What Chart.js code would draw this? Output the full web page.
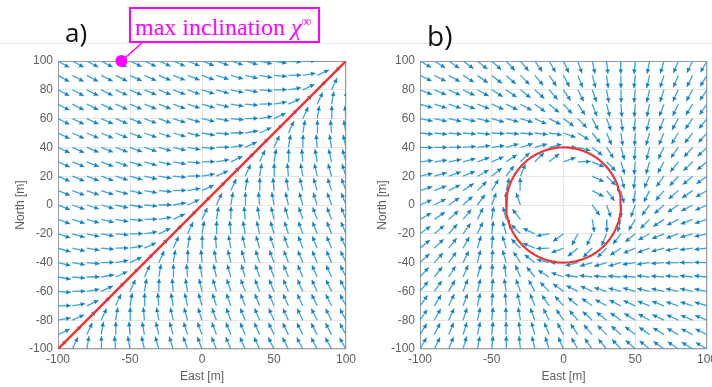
<!DOCTYPE html>
<html>
<head>
<meta charset="utf-8">
<script src="https://cdn.jsdelivr.net/npm/chart.js@4.4.1/dist/chart.umd.min.js"></script>
<style>
body{margin:0;width:712px;height:387px;overflow:hidden;background:#fff;position:relative;font-family:"Liberation Sans",Arial,sans-serif}
.pane{position:absolute;top:0;height:387px}
#rule{position:absolute;left:0;top:43px;width:712px;height:1px;background:#ececec}
.tag{position:absolute;font-family:"Open Sans",sans-serif;color:#111;line-height:1;white-space:nowrap;z-index:2}
#note{position:absolute;left:129px;top:7px;width:191px;height:36px;box-sizing:border-box;border:2px solid #ff00ff;background:#fff;z-index:2}
#note span{position:absolute;left:4px;top:6px;font-family:"Liberation Serif",serif;font-size:24px;line-height:1;color:#ff00ff;white-space:nowrap}
#note sup{font-size:14px;line-height:0;vertical-align:9px}
</style>
</head>
<body>
<div id="rule"></div>
<div class="pane" style="left:0;width:362px"><canvas id="fa" width="362" height="387"></canvas></div>
<div class="pane" style="left:362px;width:360px"><canvas id="fb" width="360" height="387"></canvas></div>
<div class="tag" style="left:65px;top:19px;font-size:26px">a)</div>
<div class="tag" style="left:427px;top:21px;font-size:28px">b)</div>
<div id="note"><span>max inclination <i>χ</i><sup>∞</sup></span></div>
<script>
// grid of the quiver (m)
const gridEast = [-100,-90,-80,-70,-60,-50,-40,-30,-20,-10,0,10,20,30,40,50,60,70,80,90,100];
const gridNorth = [100,90,80,70,60,50,40,30,20,10,0,-10,-20,-30,-40,-50,-60,-70,-80,-90,-100];
const xTickVals = [-100,-50,0,50,100];
const yTickVals = [-100,-80,-60,-40,-20,0,20,40,60,80,100];

// a) straight path, turn away from path heading (deg) by |East - North| = 0,10,..,200
const pathA = [[-100,-100],[100,100]];
const turnA = [0,20,35,44,50,55,58,61,63,65,66,67,68,69,70,71,72,73,73,74,75];
const markerA = [-56,100];

// b) loiter circle, turn from tangent (deg) by distance to circle -40,-35,..,100
const orbitRadius = 40;
const turnB = [-56,-52,-48,-43,-36,-29,-20,-11,0,11,20,29,36,43,48,52,56,59,62,64,66,67,69,70,71,72,73,74,75];
const holeB = [[-20,20],[-10,20],[0,20],[10,20],[-20,10],[-10,10],[0,10],[10,10],
               [-20,0],[-10,0],[0,0],[10,0],[-20,-10],[-10,-10],[0,-10],[10,-10]];

const arrowLen = 9;
const deg = Math.PI / 180;

const pathHeading = Math.atan2(pathA[1][1]-pathA[0][1], pathA[1][0]-pathA[0][0]) / deg;
function headingA(e, n){
    const d = e - n;
    return pathHeading + Math.sign(d) * turnA[Math.abs(d) / 10];
}
function headingB(e, n){
    const bearing = Math.atan2(n, e) / deg;
    const dr = Math.hypot(e, n) - orbitRadius;
    let k = Math.round((dr + 40) / 5);
    k = Math.max(0, Math.min(turnB.length - 1, k));
    return bearing - 90 - turnB[k];
}

function buildField(headingAt, hole){
    const shafts = [], heads = [], rot = [];
    gridNorth.forEach(function(n){
        gridEast.forEach(function(e){
            if (hole && hole.some(h => h[0] === e && h[1] === n)) return;
            const h = headingAt(e, n);
            const c = Math.cos(h*deg), s = Math.sin(h*deg);
            shafts.push({x:e, y:n}, {x:e + arrowLen*c, y:n + arrowLen*s}, {x:null, y:null});
            heads.push({x:e + (arrowLen-2.2)*c, y:n + (arrowLen-2.2)*s});
            rot.push(90 - h);
        });
    });
    return {shafts: shafts, heads: heads, rot: rot};
}

const frame = {
    id: 'frame',
    beforeDatasetsDraw(chart){
        const a = chart.chartArea, c = chart.ctx;
        c.save();
        c.strokeStyle = '#9c9c9c';
        c.lineWidth = 1;
        c.strokeRect(a.left + 0.5, a.top + 0.5, a.width - 1, a.height - 1);
        if (chart.canvas.id === 'fa') {
            const px = chart.scales.x.getPixelForValue(markerA[0]);
            const py = chart.scales.y.getPixelForValue(markerA[1]);
            c.strokeStyle = '#ff00ff';
            c.lineWidth = 1.5;
            c.beginPath();
            c.moveTo(px, py);
            c.lineTo(142, 43);
            c.stroke();
        }
        c.restore();
    }
};

function axes(){
    const tickFont = {family: 'Liberation Sans', size: 12};
    return {
        x: {
            type: 'linear', min: -100, max: 100,
            afterBuildTicks: s => { s.ticks = xTickVals.map(v => ({value: v})); },
            afterFit: s => { s.height = 38; },
            grid: {color: '#e6e6e6', drawTicks: false},
            border: {display: false},
            ticks: {color: '#5e5e5e', font: tickFont, padding: 3, maxRotation: 0},
            title: {display: true, text: 'East [m]', color: '#5e5e5e', font: tickFont, padding: {top: 0, bottom: 3}}
        },
        y: {
            type: 'linear', min: -100, max: 100,
            afterBuildTicks: s => { s.ticks = yTickVals.map(v => ({value: v})); },
            afterFit: s => { s.width = 58; },
            grid: {color: '#e6e6e6', drawTicks: false},
            border: {display: false},
            ticks: {color: '#5e5e5e', font: tickFont, padding: 5},
            title: {display: true, text: 'North [m]', color: '#5e5e5e', font: tickFont, padding: {top: 13, bottom: 0}}
        }
    };
}

function quiverSets(field){
    return [
        {type: 'scatter', data: field.heads, pointStyle: 'triangle', pointRadius: 2.7,
         pointRotation: field.rot, backgroundColor: '#1580c2', borderWidth: 0},
        {type: 'line', data: field.shafts, borderColor: '#3aa5dd', borderWidth: 1.3,
         pointRadius: 0, spanGaps: false, tension: 0}
    ];
}

function makeChart(id, sets, rightPad){
    return new Chart(document.getElementById(id), {
        type: 'scatter',
        data: {datasets: sets},
        options: {
            responsive: false, animation: false, events: [],
            layout: {padding: {top: 61, right: rightPad, left: 0, bottom: 0}},
            plugins: {legend: {display: false}, tooltip: {enabled: false}},
            scales: axes()
        },
        plugins: [frame]
    });
}

// a)
const fieldA = buildField(headingA, null);
makeChart('fa', [
    {type: 'scatter', data: [{x: markerA[0], y: markerA[1]}], pointRadius: 6,
     backgroundColor: '#ff00ff', borderWidth: 0, clip: false},
    {type: 'line', data: pathA.map(p => ({x: p[0], y: p[1]})), borderColor: '#ee3434',
     borderWidth: 2.5, pointRadius: 0}
].concat(quiverSets(fieldA)), 16);

// b)
const circle = [];
for (let a = 0; a <= 360; a += 3) {
    circle.push({x: orbitRadius*Math.cos(a*deg), y: orbitRadius*Math.sin(a*deg)});
}
const fieldB = buildField(headingB, holeB);
makeChart('fb', [
    {type: 'line', data: circle, borderColor: '#ee3434', borderWidth: 2.2, pointRadius: 0}
].concat(quiverSets(fieldB)), 15);
</script>
</body>
</html>
